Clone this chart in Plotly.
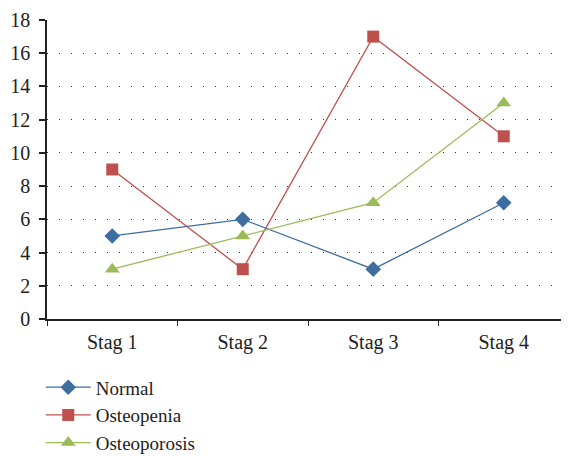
import plotly.graph_objects as go

categories = ["Stag 1", "Stag 2", "Stag 3", "Stag 4"]
normal = [5, 6, 3, 7]
osteopenia = [9, 3, 17, 11]
osteoporosis = [3, 5, 7, 13]
y_ticks = list(range(0, 19, 2))

font = "Liberation Serif, DejaVu Serif, serif"

series = [
    ("Normal", normal, "#3e6d9f", "diamond", 12),
    ("Osteopenia", osteopenia, "#c0504d", "square", 12),
    ("Osteoporosis", osteoporosis, "#9bbb59", "triangle-up", 13),
]

fig = go.Figure()
for i, (name, vals, color, sym, size) in enumerate(series):
    fig.add_trace(go.Scatter(
        x=categories, y=vals, name=name, mode="lines+markers",
        line=dict(color=color, width=1.3),
        marker=dict(symbol=sym, size=size, color=color),
    ))

# page body has an 8px margin: figure is sized/positioned to compensate
fig.update_layout(
    width=561, height=448,
    margin=dict(l=39, r=0, t=12, b=137, autoexpand=False),
    paper_bgcolor="white", plot_bgcolor="white",
    font=dict(family=font, size=20, color="#222"),
    showlegend=True,
    legend=dict(
        orientation="v", x=-0.012, xanchor="left", y=-0.165, yanchor="top",
        traceorder="normal",
        font=dict(family=font, size=19, color="#222"),
        itemwidth=45,
    ),
    xaxis=dict(
        type="category", range=[-0.5, 3.5], tickson="boundaries",
        ticks="outside", ticklen=5, tickcolor="#222", tickwidth=1,
        showline=True, linecolor="#222", linewidth=1.5,
        showgrid=False, zeroline=False, automargin=False,
        tickfont=dict(family=font, size=20, color="#222"),
        ticklabelstandoff=4,
    ),
    yaxis=dict(
        range=[0, 18], tickvals=y_ticks,
        ticks="outside", ticklen=6, tickcolor="#222", tickwidth=1.5,
        showline=True, linecolor="#222", linewidth=1.5,
        showgrid=True, gridcolor="#333", gridwidth=1, griddash="1px,11px",
        zeroline=False, automargin=False,
        tickfont=dict(family=font, size=20, color="#222"),
        ticklabelstandoff=5,
    ),
)

fig.write_html("out.html")
